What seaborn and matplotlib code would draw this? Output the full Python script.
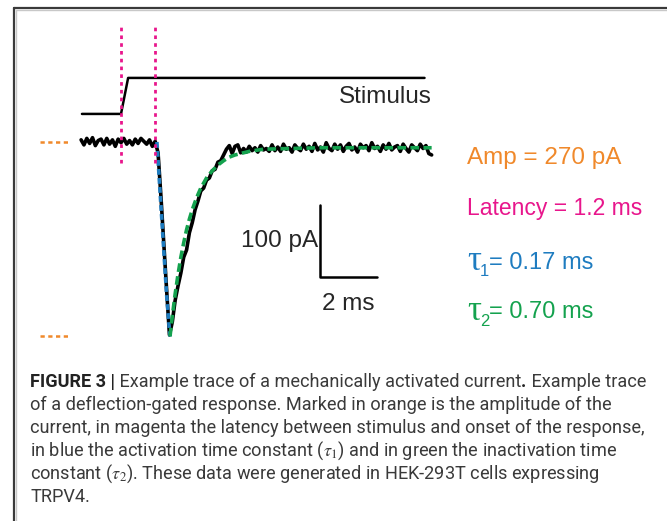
import numpy as np
import pandas as pd
import matplotlib
matplotlib.use("Agg")
import matplotlib.pyplot as plt
from matplotlib.lines import Line2D
import seaborn as sns

# ---- data -------------------------------------------------------------
# time in ms (0 = stimulus onset), current in pA relative to baseline
trace_t = np.round(np.arange(-1.4, 10.95, 0.1), 1)
trace_pa = [3, -4, 5, -2, 6, -5, 2, 4, -4, 5, -3, 3, -6, 4, -1, 5, -3, 2, -4, 4,
            -2, 5, 1, -3, 3, -6, 1,
            -15, -75, -140, -205, -268,
            -250, -220, -200, -182, -160, -150, -126, -112, -94, -82, -68, -64,
            -53, -50, -40, -38, -28,
            -26, -18, -10, -5, -16, -6, -4, -15, -9, -14,
            -6, -12, -8, -14, -5, -11, -9, -13, -4, -12,
            -7, -13, -3, -10, -8, -14, -4, -9, -12, -3,
            -10, -6, -13, -2, -11, -7, -14, -1, -9, -12,
            -3, -10, -4, -13, -6, -2, -11, -7, -14, -3,
            -8, -5, -12, -1, -9, -6, -13, -4, -10, -2,
            -11, -7, -5, -13, -3, -9, -14, -4, -8, -12,
            -3, -9, -5, -16, -18]

act_fit_t = [1.26, 1.3, 1.4, 1.5, 1.6, 1.7, 1.73]
act_fit_pa = [0, -25, -88, -150, -212, -262, -270]

inact_fit_t = [1.72, 1.8, 1.9, 2.0, 2.1, 2.2, 2.3, 2.4, 2.5, 2.6, 2.7, 2.8, 2.9,
               3.0, 3.2, 3.4, 3.6, 3.8, 4.0, 4.5, 5.0, 6.0, 7.0, 8.0, 9.0, 10.0, 10.9]
inact_fit_pa = [-270, -242, -211, -184, -160, -140, -122, -107, -94, -83, -73, -64,
                -57, -50, -40, -32, -26, -21, -18, -13, -10, -9, -8, -8, -8, -8, -8]

stim_t = [-1.37, 0.0, 0.25, 10.65]
stim_level = [0, 0, 1, 1]

amp_pa = 270
latency_ms = 1.2
tau1_ms = 0.17
tau2_ms = 0.70
bar_pa = 100
bar_ms = 2

C_ORANGE = "#F0892B"
C_MAGENTA = "#E8168C"
C_BLUE = "#1E7CC0"
C_GREEN = "#14A24E"

# ---- figure -----------------------------------------------------------
W, H = 667, 521
sns.set_style("white")
plt.rcParams["font.family"] = ["Liberation Sans", "DejaVu Sans"]
plt.rcParams["mathtext.fontset"] = "stix"

fig = plt.figure(figsize=(W / 100, H / 100), dpi=100)
ax = fig.add_axes([0, 0, 1, 1])
# pixel mapping: x = 121 + 28.5 * t, y = 142 - 0.72 * I
PX_MS, PX_PA, X0, Y0 = 28.5, 0.72, 121, 142
ax.set_xlim(-X0 / PX_MS, (W - X0) / PX_MS)
ax.set_ylim((Y0 - H) / PX_PA, Y0 / PX_PA)
ax.axis("off")
renderer = fig.canvas.get_renderer()


def px(x, y):
    return x / W, 1 - y / H


df = pd.DataFrame({"t": trace_t, "pa": trace_pa})
sns.lineplot(data=df, x="t", y="pa", color="black", lw=2.6, ax=ax,
             estimator=None, sort=False)
sns.lineplot(x=act_fit_t, y=act_fit_pa, color=C_BLUE, lw=2.6, ax=ax,
             estimator=None, sort=False, linestyle=(0, (1.6, 0.9)))
sns.lineplot(x=inact_fit_t, y=inact_fit_pa, color=C_GREEN, lw=2.6, ax=ax,
             estimator=None, sort=False, linestyle=(0, (2.4, 1.2)))

# stimulus trace (offset above the current)
stim_y = [39 + 50 * v for v in stim_level]
ax.plot(stim_t, stim_y, color="black", lw=1.8)
ax.text(10.9, 62.5, "Stimulus", ha="right", va="center", fontsize=17.5)

# latency markers
ax.vlines([0, latency_ms], -29, 162, colors=C_MAGENTA, lw=2,
          linestyles=[(0, (1.3, 1.5))])
# amplitude markers
ax.hlines([0, -amp_pa], -2.84, -1.86, colors=C_ORANGE, lw=1.8,
          linestyles=[(0, (1.7, 1.4))])

# scale bar
sx, sy = 6.98, -187.5
ax.plot([sx, sx, sx + bar_ms], [sy + bar_pa, sy, sy], color="black", lw=1.8)
ax.text(sx - 0.07, sy + bar_pa / 2, f"{bar_pa} pA", ha="right", va="center",
        fontsize=17.5)
ax.text(sx + bar_ms / 2, sy - 37, f"{bar_ms} ms", ha="center", va="center",
        fontsize=17.5)

# parameters
fig.text(*px(467, 158), f"Amp = {amp_pa} pA", color=C_ORANGE, fontsize=17.5,
         ha="left", va="center")
fig.text(*px(467, 208), f"Latency = {latency_ms} ms", color=C_MAGENTA,
         fontsize=16.5, ha="left", va="center")
for sub, val, c, y in [("1", tau1_ms, C_BLUE, 263), ("2", tau2_ms, C_GREEN, 312)]:
    x = 467
    t = fig.text(*px(x, y - 1), "\u03c4", color=c, fontsize=25,
                 family=["Liberation Serif"], ha="left", va="center")
    x += t.get_window_extent(renderer).width - 1
    t = fig.text(*px(x, y + 9), sub, color=c, fontsize=12, ha="left", va="center")
    x += t.get_window_extent(renderer).width
    fig.text(*px(x, y), f"= {val:.2f} ms", color=c, fontsize=17,
             ha="left", va="center")

# frame
for (x1, y1), (x2, y2), c, w in [((14, 521), (14, 8), "#3a3a3a", 1.6),
                                   ((14, 8), (667, 8), "#3a3a3a", 1.6),
                                   ((16, 521), (16, 10), "#c8c8c8", 1.0),
                                   ((16, 10), (667, 10), "#c8c8c8", 1.0)]:
    fig.add_artist(Line2D([x1 / W, x2 / W], [1 - y1 / H, 1 - y2 / H],
                          color=c, lw=w))

# caption
cap_lines = [
    [("FIGURE 3 |", "bold"), (" Example trace of a mechanically activated current", "normal"),
     (".", "bold"), (" Example trace", "normal")],
    [("of a deflection-gated response. Marked in orange is the amplitude of the", "normal")],
    [("current, in magenta the latency between stimulus and onset of the response,", "normal")],
    [(r"in blue the activation time constant ($\tau_1$) and in green the inactivation time", "normal")],
    [(r"constant ($\tau_2$). These data were generated in HEK-293T cells expressing", "normal")],
    [("TRPV4.", "normal")],
]
cap_font = ["Roboto", "DejaVu Sans"]

probe = fig.text(0, 0, cap_lines[2][0][0], fontsize=12, family=cap_font)
w12 = probe.get_window_extent(renderer).width
probe.remove()
cap_size = 12 * 614 / w12

for i, runs in enumerate(cap_lines):
    x = 30
    y = 382 + 23 * i
    for s, wt in runs:
        t = fig.text(*px(x, y), s, fontsize=cap_size, family=cap_font, weight=wt,
                     color="#222222" if wt == "bold" else "#3a3a3a",
                     ha="left", va="center")
        x += t.get_window_extent(renderer).width

fig.savefig("out.png", dpi=100)
